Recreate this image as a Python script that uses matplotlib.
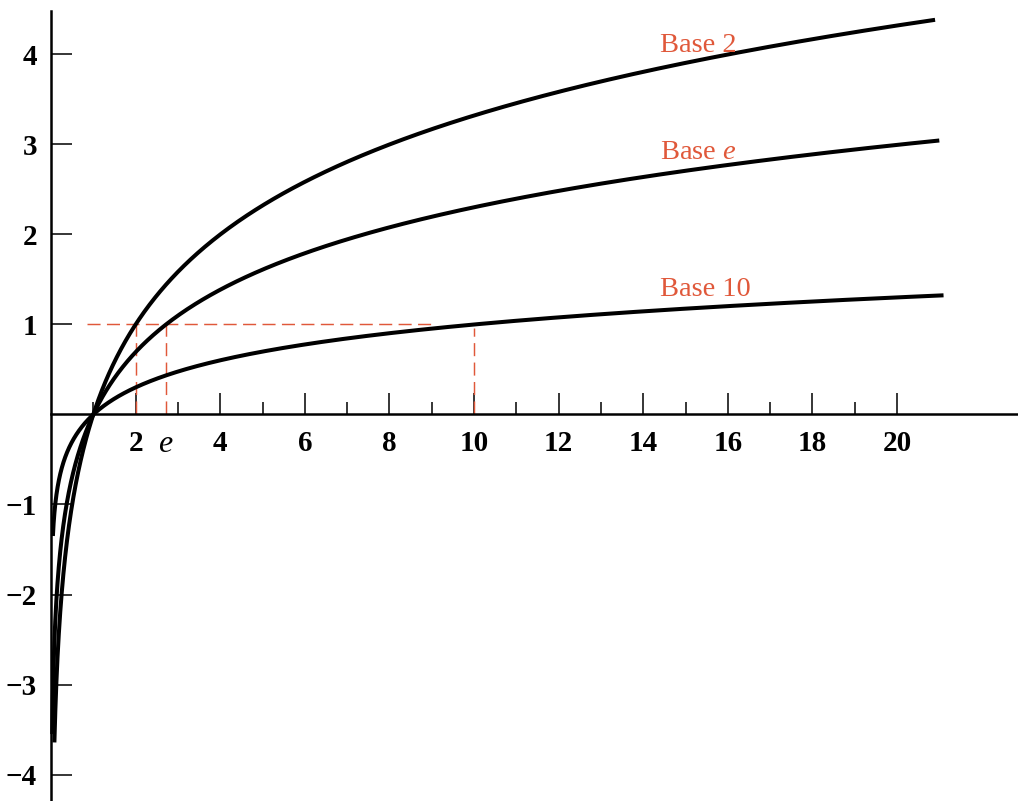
import numpy as np
import matplotlib
matplotlib.use("Agg")
import matplotlib.pyplot as plt
from matplotlib.ticker import FixedLocator, NullFormatter

plt.rcParams["font.family"] = ["Liberation Serif", "DejaVu Serif"]
plt.rcParams["mathtext.fontset"] = "custom"
plt.rcParams["mathtext.rm"] = "Liberation Serif"
plt.rcParams["mathtext.it"] = "Liberation Serif:italic"
plt.rcParams["lines.scale_dashes"] = False

# Logarithm bases, their labels and the x-span each curve is drawn over
bases = [2.0, np.e, 10.0]
base_labels = ["Base 2", "Base $e$", "Base 10"]
x_starts = [0.080, 0.0287, 0.0447]
x_ends = [20.9, 21.0, 21.1]
label_x = [14.4, 14.4, 14.4]
label_y = [4.03, 2.84, 1.32]

# Axis ticks
x_major = [2, 4, 6, 8, 10, 12, 14, 16, 18, 20]
x_minor = [1, 3, 5, 7, 9, 11, 13, 15, 17, 19]
y_ticks = [-4, -3, -2, -1, 1, 2, 3, 4]

# Dashed guides: where each log reaches 1
guide_x = [2.0, np.e, 10.0]
guide_top = [1.0, 1.0, 0.96]
guide_h_span = (0.85, 9.0)

accent = "#E0583A"
ink = "black"

fig = plt.figure(figsize=(10.18, 8.01), dpi=100)
ax = fig.add_axes([0, 0, 1, 1])

unit_x = 42.3
x0_px = 51.0
ax.set_xlim(-x0_px / unit_x, (1018 - x0_px) / unit_x)
unit_y = 90.0
y0_px = 414.5
ax.set_ylim(-(801 - y0_px) / unit_y, y0_px / unit_y)

for b, xs, xe in zip(bases, x_starts, x_ends):
    x = np.geomspace(xs, xe, 800)
    ax.plot(x, np.log(x) / np.log(b), color=ink, lw=2.9, solid_capstyle="butt", zorder=3)

for txt, lx, ly in zip(base_labels, label_x, label_y):
    ax.text(lx, ly, txt, color=accent, fontsize=20.5, ha="left", va="baseline")

dash = (0, (9.4, 4.6))
for gx, gt in zip(guide_x, guide_top):
    ax.plot([gx, gx], [0, gt], color=accent, lw=1.05, linestyle=dash, zorder=2)
ax.plot(list(guide_h_span), [1, 1], color=accent, lw=1.05, linestyle=dash, zorder=2)

# Axes through the origin
for s in ["top", "right"]:
    ax.spines[s].set_visible(False)
ax.spines["left"].set_position(("data", 0))
ax.spines["bottom"].set_position(("data", 0))
ax.spines["left"].set_linewidth(1.8)
ax.spines["bottom"].set_linewidth(1.8)
ax.spines["left"].set_bounds(ax.get_ylim()[0], 4.48)
ax.spines["bottom"].set_bounds(0, ax.get_xlim()[1])

ax.xaxis.set_major_locator(FixedLocator(x_major))
ax.xaxis.set_minor_locator(FixedLocator(x_minor))
ax.xaxis.set_minor_formatter(NullFormatter())
ax.set_xticklabels([str(v) for v in x_major])
ax.yaxis.set_major_locator(FixedLocator(y_ticks))
ax.set_yticklabels([("\u2212" + str(-v)) if v < 0 else str(v) for v in y_ticks])

ax.tick_params(axis="x", which="major", direction="in", length=15, width=1.1,
               pad=11, labelsize=21, colors=ink)
ax.tick_params(axis="x", which="minor", direction="in", length=8.5, width=1.1)
ax.tick_params(axis="y", which="major", direction="in", length=15, width=1.1,
               pad=10, labelsize=21, colors=ink)
for lab in ax.get_xticklabels() + ax.get_yticklabels():
    lab.set_fontweight("bold")

# The e label on the x-axis has no tick mark of its own
ax.annotate("$e$", xy=(np.e, 0), xytext=(0, -11), textcoords="offset points",
            ha="center", va="top", fontsize=23, color=ink)

fig.savefig("out.png", dpi=100)
